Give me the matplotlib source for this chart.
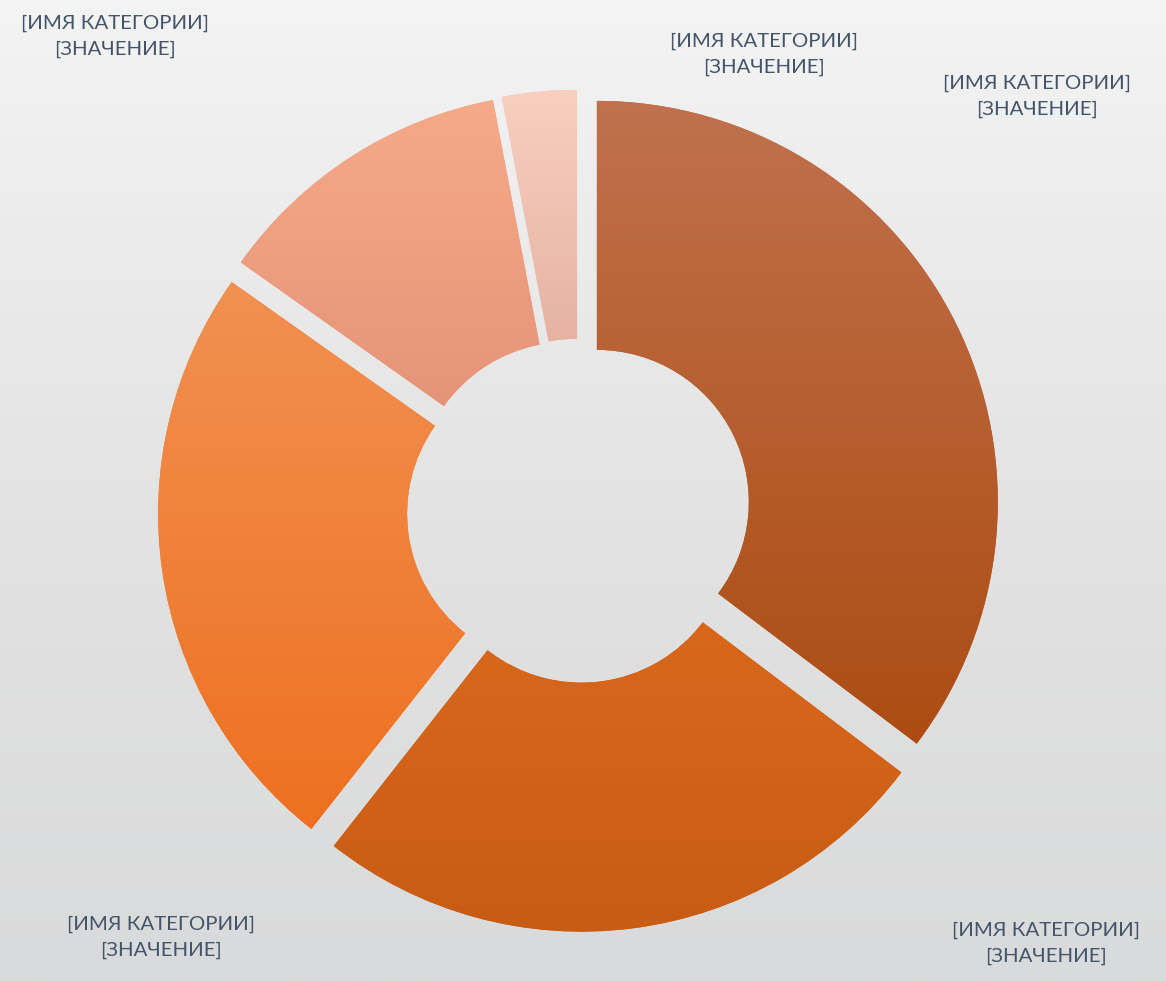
import numpy as np
import matplotlib
matplotlib.use("Agg")
import matplotlib.pyplot as plt
from matplotlib.colors import to_rgb

# ---------------- data ----------------
categories = ["[ИМЯ КАТЕГОРИИ]"] * 5
value_labels = ["[ЗНАЧЕНИЕ]"] * 5
values = [35.3, 25.3, 24.2, 12.2, 3.0]

# per-slice vertical gradient colours (top -> bottom)
top_colors = ["#C0714D", "#D9681C", "#F29152", "#F6AA88", "#F8CFC0"]
bottom_colors = ["#AC4C12", "#C85C14", "#EE7020", "#E69478", "#E6B2A2"]

# ---------------- layout ----------------
W, H = 1166, 981
CX, CY = 578.9, H - 510.8
R_OUT, R_IN = 401, 152
EXPLODE = 20
label_xy = [(1037, 96), (1046, 943), (161, 937), (115, 36), (764, 54)]  # pixel coords (y down)
TEXT_COLOR = "#44546A"

fig = plt.figure(figsize=(W / 100, H / 100), dpi=100)
ax = fig.add_axes([0, 0, 1, 1])

# background: soft grey vertical gradient
stops_y = np.array([0.0, 0.25, 0.6, 1.0])
stops_c = np.array([to_rgb(c) for c in ["#F4F4F4", "#EBEBEB", "#E1E1E1", "#D9DADB"]])
yy = np.linspace(0, 1, 512)
bg = np.stack([np.interp(yy, stops_y, stops_c[:, k]) for k in range(3)], axis=-1)[:, None, :]
ax.imshow(bg, extent=(0, W, 0, H), origin="upper", aspect="auto", zorder=0)

wedges, _ = ax.pie(values, radius=R_OUT, center=(CX, CY), startangle=90,
                   counterclock=False, explode=[EXPLODE] * len(values),
                   colors=top_colors,
                   wedgeprops=dict(width=R_OUT - R_IN, linewidth=0), frame=True)

for w, ct, cb in zip(wedges, top_colors, bottom_colors):
    w.set_zorder(2)
    ext = w.get_path().transformed(w.get_patch_transform()).get_extents()
    t = np.linspace(0, 1, 256)[:, None]
    grad = (1 - t) * np.array(to_rgb(ct)) + t * np.array(to_rgb(cb))
    mid = (np.array(to_rgb(ct)) + np.array(to_rgb(cb))) / 2
    w.set_facecolor(mid)
    im = ax.imshow(grad[:, None, :], extent=(ext.x0, ext.x1, ext.y0, ext.y1),
                   origin="upper", aspect="auto", zorder=3, interpolation="bilinear")
    im.set_clip_path(w)

for (lx, ly), cat, val in zip(label_xy, categories, value_labels):
    ax.text(lx, H - ly, f"{cat}\n{val}", ha="center", va="center",
            multialignment="center", fontsize=14.7, color=TEXT_COLOR,
            family=["Lato", "DejaVu Sans"], linespacing=1.62, zorder=5)

ax.set_xlim(0, W)
ax.set_ylim(0, H)
ax.set_aspect("auto")
ax.axis("off")

fig.savefig("out.png", dpi=100)
